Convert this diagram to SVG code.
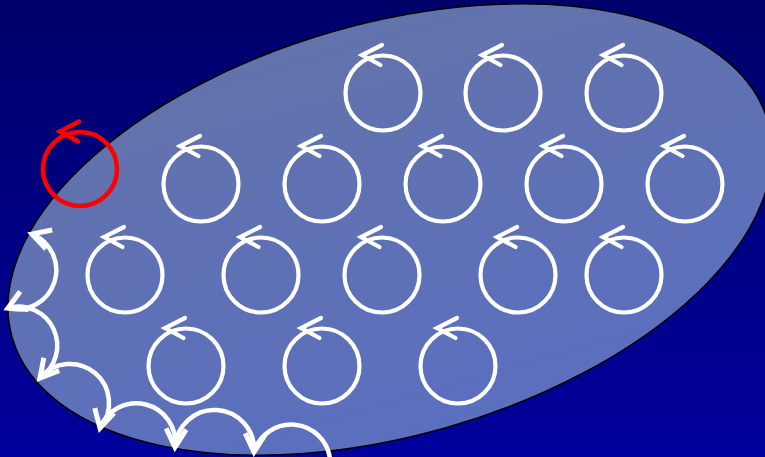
<svg xmlns="http://www.w3.org/2000/svg" width="765" height="457" viewBox="0 0 765 457">
<defs>
<linearGradient id="bg" x1="0" y1="0" x2="0" y2="1">
<stop offset="0" stop-color="#00006a"/>
<stop offset="1" stop-color="#00009c"/>
</linearGradient>
<linearGradient id="el" gradientUnits="userSpaceOnUse" x1="0" y1="0" x2="0" y2="457">
<stop offset="0" stop-color="#6373aa"/>
<stop offset="1" stop-color="#5a6fc0"/>
</linearGradient>
<style>
.ring{fill:none;stroke:#fff;stroke-width:4.2}
.head{fill:none;stroke:#fff;stroke-width:4.2;stroke-linecap:round;stroke-linejoin:miter}
.red .ring,.red .head{stroke:#ff0000;stroke-width:4.5}
.edge{fill:none;stroke:#fff;stroke-width:4.5}
.ehead{fill:none;stroke:#fff;stroke-width:5;stroke-linecap:butt;stroke-linejoin:miter}
</style>
<g id="vortex">
<circle class="ring" cx="0" cy="0" r="37.5"/>
<polyline class="head" points="-1,-48 -21,-38 -2.5,-28"/>
</g>
</defs>
<rect width="765" height="457" fill="url(#bg)"/>
<ellipse id="sample" cx="390" cy="229.5" rx="393" ry="206" transform="rotate(-16 390 229.5)" fill="url(#el)" stroke="#000" stroke-width="1.5"/>
<g id="v1" transform="translate(383,93)"><use href="#vortex"/></g>
<g id="v2" transform="translate(503,93)"><use href="#vortex"/></g>
<g id="v3" transform="translate(624,93)"><use href="#vortex"/></g>
<g id="v4" transform="translate(201,184)"><use href="#vortex"/></g>
<g id="v5" transform="translate(322,184)"><use href="#vortex"/></g>
<g id="v6" transform="translate(443,184)"><use href="#vortex"/></g>
<g id="v7" transform="translate(564,184)"><use href="#vortex"/></g>
<g id="v8" transform="translate(685,184)"><use href="#vortex"/></g>
<g id="v9" transform="translate(125,275)"><use href="#vortex"/></g>
<g id="v10" transform="translate(261,275)"><use href="#vortex"/></g>
<g id="v11" transform="translate(382,275)"><use href="#vortex"/></g>
<g id="v12" transform="translate(518,275)"><use href="#vortex"/></g>
<g id="v13" transform="translate(624,275)"><use href="#vortex"/></g>
<g id="v14" transform="translate(186,366)"><use href="#vortex"/></g>
<g id="v15" transform="translate(322,366)"><use href="#vortex"/></g>
<g id="v16" transform="translate(458,366)"><use href="#vortex"/></g>
<g id="vred" class="red" transform="translate(80,169)">
<circle class="ring" cx="0" cy="0" r="37"/>
<polyline class="head" points="-1,-47.5 -20,-37.5 -2,-27.5"/>
</g>
<g id="edge-orbits">
<path class="edge" d="M330,459 A39,39 0 0 0 254,452"/>
<polyline class="ehead" points="265.2,434.7 254,452 245.2,433.3"/>
<path class="edge" d="M254,452 A39,39 0 0 0 175,447"/>
<polyline class="ehead" points="186.2,429.7 175,447 166.2,428.4"/>
<path class="edge" d="M175,447 A39,39 0 0 0 100,428"/>
<polyline class="ehead" points="114.1,413.1 100,428 94.7,408.2"/>
<path class="edge" d="M100,428 A39,39 0 0 0 40,378"/>
<polyline class="ehead" points="59.2,370.6 40,378 43.8,357.8"/>
<path class="edge" d="M40,378 A39,39 0 0 0 8,308"/>
<polyline class="ehead" points="20.2,291.4 8,308 28.6,309.6"/>
<path class="edge" d="M8,308 A39,39 0 0 0 32,234"/>
<polyline class="ehead" points="52.2,230 32,234 46,249"/>
</g>
</svg>
